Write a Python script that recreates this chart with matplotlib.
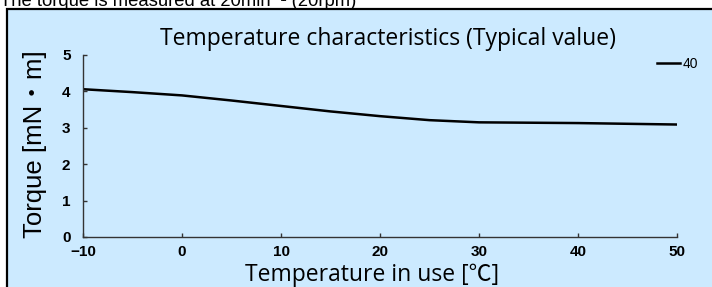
import matplotlib
matplotlib.use("Agg")
import matplotlib.pyplot as plt
from matplotlib.patches import Rectangle

temps = [-10, -5, 0, 5, 10, 15, 20, 25, 30, 35, 40, 45, 50]
torque = [4.06, 3.98, 3.89, 3.75, 3.60, 3.45, 3.32, 3.21, 3.15, 3.14, 3.13, 3.11, 3.09]
series_label = "40"
xticks = [-10, 0, 10, 20, 30, 40, 50]
yticks = [0, 1, 2, 3, 4, 5]

W, H = 712, 287
fig = plt.figure(figsize=(W / 100, H / 100), dpi=100)
fig.patch.set_facecolor("white")

# light-blue panel with black border
fig.patches.append(Rectangle((6.5 / W, -0.1), 1.2, 1.1 - 8.5 / H, transform=fig.transFigure,
                             facecolor="#cceaff", edgecolor="black", linewidth=1.6, zorder=-5))

fig.text(0.0, 1 - 6 / H, "The torque is measured at 20min\u207b\u00b9 (20rpm)",
         family=["Liberation Sans", "DejaVu Sans"], fontsize=13.3, va="baseline", ha="left")

ax = fig.add_axes([83 / W, 1 - 237 / H, (677 - 83) / W, (237 - 55) / H])
ax.set_facecolor("none")
ax.set_zorder(2)
ax.plot(temps, torque, color="black", linewidth=1.8, label=series_label)
ax.set_xlim(-10, 50)
ax.set_ylim(0, 5)
ax.set_xticks(xticks)
ax.set_yticks(yticks)
ax.set_xticklabels([str(t).replace("-", "\u2212") for t in xticks])
for s in ["top", "right"]:
    ax.spines[s].set_visible(False)
for s in ["left", "bottom"]:
    ax.spines[s].set_color("#333333")
    ax.spines[s].set_linewidth(1.0)
ax.tick_params(direction="in", length=3, width=1, color="#333333")
ax.tick_params(axis="y", pad=9)
ax.tick_params(axis="x", pad=6)
for lab in ax.get_xticklabels() + ax.get_yticklabels():
    lab.set_family("Liberation Sans")
    lab.set_fontweight("bold")
    lab.set_fontsize(11)

ax.set_ylabel("Torque [mN\u30fbm]", family=["Liberation Sans", "Noto Sans CJK JP"], fontsize=18.5)
ax.yaxis.set_label_coords(-(83 - 47) / (677 - 83), 0.51)
fig.text(372 / W, 1 - 281 / H, "Temperature in use [\u2103]", family=["Open Sans", "Noto Sans CJK JP"],
         fontsize=16.5, ha="center", va="baseline")

fig.text(388 / W, 1 - 45 / H, "Temperature characteristics (Typical value)",
         family=["Open Sans"], fontsize=16.5, ha="center", va="baseline")

leg = ax.legend(loc="upper right", bbox_to_anchor=(698 / W, 1 - 57 / H), bbox_transform=fig.transFigure,
                frameon=False, borderaxespad=0, borderpad=0, handlelength=1.7, handletextpad=0.15,
                prop={"family": "Liberation Sans", "size": 10})

fig.savefig("out.png", dpi=100)
